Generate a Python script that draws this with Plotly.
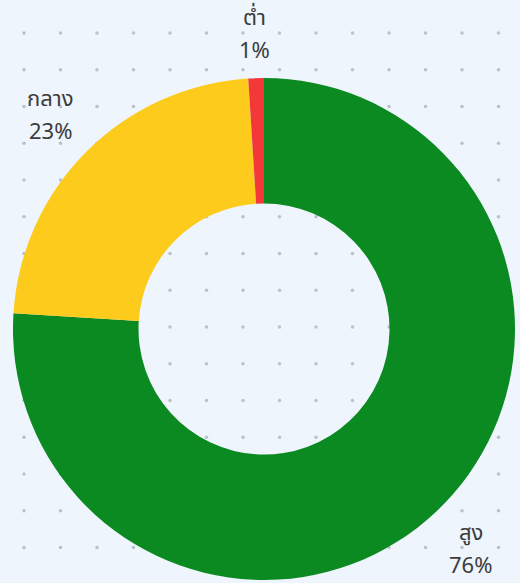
import numpy as np
import plotly.graph_objects as go

labels = ["สูง", "กลาง", "ต่ำ"]
values = [76, 23, 1]
colors = ["#0B8A22", "#FCCB1C", "#F23838"]

W, H = 520, 583
CX, CY, R = 264, 329, 251          # pie centre / radius in pixels
LBL_R, BOX_W, BOX_H = 265, 23, 29  # outside-label placement

# background dot grid (decoration)
gx = np.arange(24, W, 36.5)
gy = np.arange(33, H, 36.75)
dx, dy = np.meshgrid(gx, gy)

fig = go.Figure()
fig.add_trace(go.Scatter(
    x=dx.ravel(), y=dy.ravel(), mode="markers",
    marker=dict(size=3.5, color="#BAC1CB"), hoverinfo="skip", showlegend=False,
))
fig.add_trace(go.Pie(
    labels=labels, values=values, hole=0.5, sort=False, direction="clockwise",
    rotation=0, marker=dict(colors=colors, line=dict(width=0)),
    textinfo="none", showlegend=False, hoverinfo="label+percent",
    domain=dict(x=[(CX - R) / W, (CX + R) / W], y=[1 - (CY + R) / H, 1 - (CY - R) / H]),
))

# outside labels placed at each slice's mid-angle
vals = np.array(values, dtype=float)
frac = vals / vals.sum()
mid = (np.cumsum(frac) - frac / 2) * 2 * np.pi
font = dict(size=22, color="#3C3C3C",
            family="'Noto Sans Thai', Tahoma, 'Noto Sans', sans-serif")
for lab, f, a in zip(labels, frac, mid):
    ux, uy = np.sin(a), -np.cos(a)
    d = LBL_R + abs(ux) * BOX_W + abs(uy) * BOX_H
    x, y = CX + d * ux, CY + d * uy
    fig.add_annotation(x=x, y=y - 16, xref="x", yref="y", text=lab, showarrow=False,
                       font=font, xanchor="center", yanchor="middle")
    fig.add_annotation(x=x, y=y + 17, xref="x", yref="y", text=f"{f:.0%}", showarrow=False,
                       font=font, xanchor="center", yanchor="middle")

fig.update_layout(
    width=W, height=H, margin=dict(l=0, r=0, t=0, b=0, pad=0),
    paper_bgcolor="#EEF5FC", plot_bgcolor="rgba(0,0,0,0)",
    xaxis=dict(range=[0, W], autorange=False, visible=False, fixedrange=True),
    yaxis=dict(range=[H, 0], autorange=False, visible=False, fixedrange=True),
)
fig.write_html("out.html", config={"responsive": False, "displayModeBar": False},
               post_script="document.body.style.margin='0px';")
